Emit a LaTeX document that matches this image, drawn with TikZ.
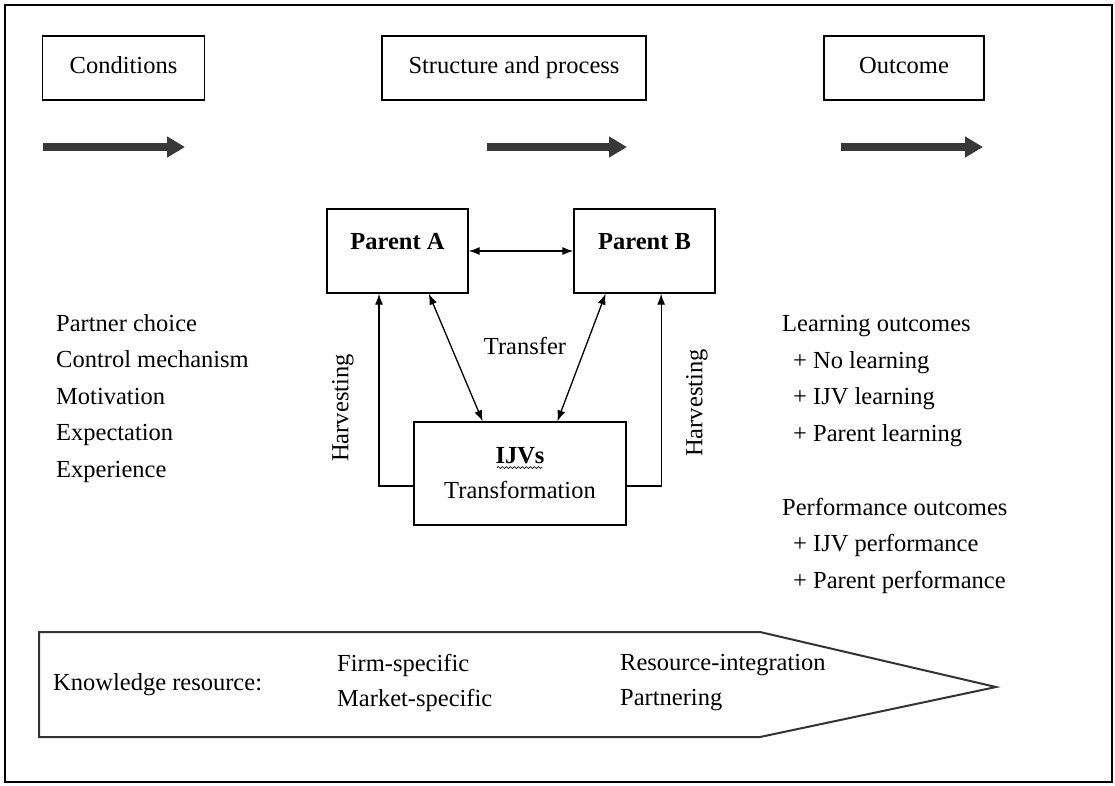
\documentclass[tikz,border=0pt]{standalone}
\usepackage{fontspec}
\setmainfont{Liberation Serif}
\usetikzlibrary{arrows.meta, decorations.pathmorphing, calc}
\tikzset{>={Latex[length=11pt,width=8pt]}}
\begin{document}
\begin{tikzpicture}[x=1pt, y=-1pt, font=\fontsize{24.5}{36.5}\selectfont,
  stagebox/.style={draw, line width=1.3pt, minimum height=64pt, inner sep=0pt, text height=16pt, text depth=5pt},
  partybox/.style={draw, line width=1.3pt, minimum height=84pt, minimum width=141pt, inner sep=0pt},
  link/.style={line width=1.3pt, <->},
  harvest/.style={line width=1.3pt, ->},
  flow/.style={line width=8pt, draw=black!78, -{Triangle[length=18pt,width=20pt]}},
  txt/.style={inner sep=0pt, align=left}]
\useasboundingbox (0,0) rectangle (1115,785);
\draw[line width=1.5pt] (5,5) rectangle (1112,782);

% stages
\node[stagebox, minimum width=162pt] (condbox) at (123.5,68) {Conditions};
\node[stagebox, minimum width=264pt] (structbox) at (514,68) {Structure and process};
\node[stagebox, minimum width=160pt] (outbox) at (904,68) {Outcome};
\coordinate (f1s) at (43,147);  \coordinate (f1e) at (185,147);
\coordinate (f2s) at (487,147); \coordinate (f2e) at (627,147);
\coordinate (f3s) at (841,147); \coordinate (f3e) at (983,147);
\draw[flow] (f1s) -- (f1e);
\draw[flow] (f2s) -- (f2e);
\draw[flow] (f3s) -- (f3e);

% parents and IJV
\node[partybox] (parentA) at (397.5,251) {};
\node[partybox] (parentB) at (644.5,251) {};
\node[inner sep=0pt, font=\fontsize{24.5}{36}\selectfont\bfseries] (parentAtxt) at ([yshift=9pt]parentA.center) {Parent A};
\node[inner sep=0pt, font=\fontsize{24.5}{36}\selectfont\bfseries] (parentBtxt) at ([yshift=9pt]parentB.center) {Parent B};
\node[draw, line width=1.3pt, minimum width=212pt, minimum height=103pt, align=center,
  font=\fontsize{24.5}{35}\selectfont] (ijv) at (520,473.5) {\textbf{IJVs}\\Transformation};
\draw[line width=0.7pt, decorate, decoration={snake, amplitude=1pt, segment length=4pt}]
  ($(ijv.center)+(-23,-6)$) -- ($(ijv.center)+(22,-6)$);

\draw[link] (parentA.east) -- (parentB.west);
\draw[link] ($(parentA.south west)!0.72!(parentA.south east)$) -- ($(ijv.north west)!0.325!(ijv.north east)$);
\draw[link] ($(parentB.south west)!0.227!(parentB.south east)$) -- ($(ijv.north west)!0.675!(ijv.north east)$);
\draw[harvest] ([yshift=-12.5pt]ijv.west) -| ($(parentA.south west)!0.37!(parentA.south east)$);
\draw[harvest] ([yshift=-12.5pt]ijv.east) -| ($(parentB.south west)!0.617!(parentB.south east)$);
\node[inner sep=0pt] (transfer) at (525,346) {Transfer};
\node[inner sep=0pt, rotate=90] (harvA) at (343,408) {Harvesting};
\node[inner sep=0pt, rotate=90] (harvB) at (697,403) {Harvesting};

% conditions and outcomes
\node[txt, anchor=west] (condlist) at (56,398.5) {Partner choice\\Control mechanism\\Motivation\\Expectation\\Experience};
\node[txt, anchor=west] (learnlist) at (782,381) {Learning outcomes\\\hspace*{11pt}+ No learning\\\hspace*{11pt}+ IJV learning\\\hspace*{11pt}+ Parent learning};
\node[txt, anchor=west] (perflist) at (782,545.5) {Performance outcomes\\\hspace*{11pt}+ IJV performance\\\hspace*{11pt}+ Parent performance};

% knowledge resource
\draw[line width=2pt, draw=black!80] (39,632) -- (760,632) -- (996,687) -- (760,737) -- (39,737) -- cycle;
\node[txt, anchor=west] (knowtxt) at (53,685) {Knowledge resource:};
\node[txt, anchor=west, font=\fontsize{24.5}{35}\selectfont] (specific) at (337,682.5) {Firm-specific\\Market-specific};
\node[txt, anchor=west, font=\fontsize{24.5}{35}\selectfont] (integr) at (620,682.5) {Resource-integration\\Partnering};
\end{tikzpicture}
\end{document}
